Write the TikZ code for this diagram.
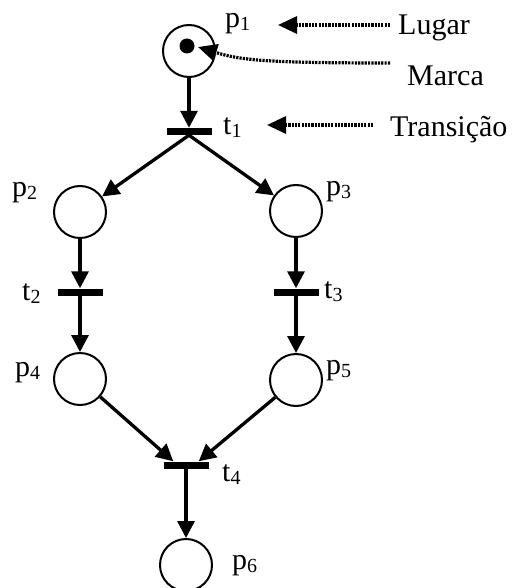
\documentclass[tikz,border=0pt]{standalone}
\usepackage{fontspec}
\setmainfont{Liberation Serif}
\usetikzlibrary{arrows.meta,calc}
\newcommand\lblsub[2]{#1\raisebox{-3pt}{\fontsize{20}{20}\selectfont #2}}
\tikzset{
  place/.style={circle,draw,line width=2pt,minimum size=52pt,inner sep=0pt},
  trans/.style={rectangle,fill=black,minimum width=45pt,minimum height=7pt,inner sep=0pt},
  arc/.style={line width=3.3pt,-{Triangle[length=17pt,width=17pt]}},
  note/.style={line width=3.2pt,dash pattern=on 2.2pt off 1.1pt,-{Triangle[length=19pt,width=17pt]}},
  lbl/.style={anchor=base west,inner sep=0pt,font=\fontsize{30}{34}\selectfont},
  annot/.style={anchor=base west,inner sep=0pt,font=\fontsize{30}{34}\selectfont}
}
\begin{document}
\begin{tikzpicture}[x=1pt,y=-1pt]
\useasboundingbox (0,0) rectangle (512,588);
% places
\node[place] (p1) at (189,51) {};
\node[place] (p2) at (80,212) {};
\node[place] (p3) at (296,211) {};
\node[place] (p4) at (80,379) {};
\node[place] (p5) at (296,380) {};
\node[place] (p6) at (186,565) {};
\fill (187,46) circle (7.5pt) coordinate (token);
% transitions
\node[trans] (t1) at (189,131.5) {};
\node[trans] (t2) at (80,292) {};
\node[trans] (t3) at (296,292) {};
\node[trans] (t4) at (186,465) {};
% arcs
\draw[arc] (p1.south) -- (t1.north);
\draw[arc] (t1.south) -- (p2);
\draw[arc] (t1.south) -- (p3);
\draw[arc] (p2.south) -- (t2.north);
\draw[arc] (p3.south) -- (t3.north);
\draw[arc] (t2.south) -- (p4.north);
\draw[arc] (t3.south) -- (p5.north);
\coordinate (t4l) at ($(t4.north west)!0.22!(t4.north east)$);
\coordinate (t4r) at ($(t4.north west)!0.78!(t4.north east)$);
\draw[arc] (p4) -- (t4l);
\draw[arc] (p5) -- (t4r);
\draw[arc] (t4.south) -- (p6.north);
% labels
\node[lbl] (lp1) at (225,28) {\lblsub{p}{1}};
\node[lbl] (lt1) at (223,135) {\lblsub{t}{1}};
\node[lbl] (lp2) at (12,196) {\lblsub{p}{2}};
\node[lbl] (lp3) at (326,195) {\lblsub{p}{3}};
\node[lbl] (lt2) at (22,300) {\lblsub{t}{2}};
\node[lbl] (lt3) at (324,298) {\lblsub{t}{3}};
\node[lbl] (lp4) at (15,376) {\lblsub{p}{4}};
\node[lbl] (lp5) at (326,374) {\lblsub{p}{5}};
\node[lbl] (lt4) at (222,481) {\lblsub{t}{4}};
\node[lbl] (lp6) at (232,569) {\lblsub{p}{6}};
% annotations
\node[annot] (lugar) at (398,35) {Lugar};
\node[annot] (marca) at (407,86) {Marca};
\node[annot] (transicao) at (390,137) {Transição};
\coordinate (lugarS) at (390,25);
\coordinate (lugarT) at (278,25);
\coordinate (marcaS) at (390,63);
\coordinate (marcaT) at (198,47);
\coordinate (transS) at (373,125);
\coordinate (transT) at (267,125);
\draw[note] (lugarS) -- (lugarT);
\draw[note] (marcaS) .. controls (265,63) and (240,60) .. (marcaT);
\draw[note] (transS) -- (transT);
\end{tikzpicture}
\end{document}
